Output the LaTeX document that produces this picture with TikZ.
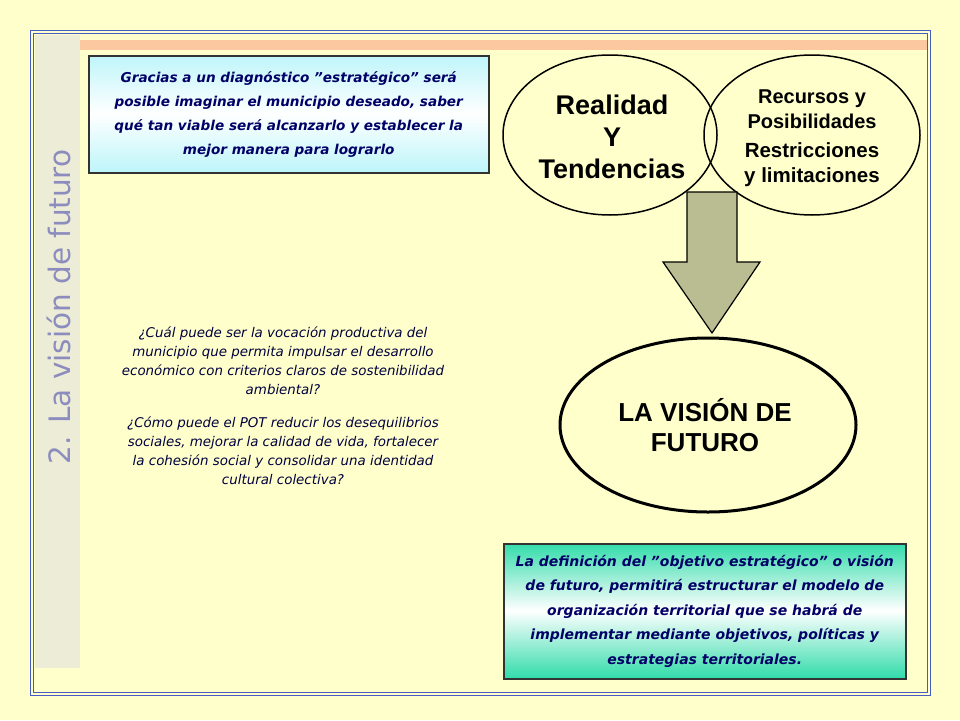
\documentclass[tikz,border=0pt]{standalone}
\usepackage{fontspec}
\setmainfont{DejaVu Sans}
\newfontfamily\arialf{Liberation Sans}
\usetikzlibrary{arrows.meta}
\definecolor{bg}{RGB}{255,255,204}
\definecolor{navy}{RGB}{0,0,102}
\definecolor{frameblue}{RGB}{70,90,200}
\definecolor{stripgray}{RGB}{236,236,215}
\definecolor{orng}{RGB}{252,200,160}
\definecolor{cyanish}{RGB}{190,245,250}
\definecolor{teal}{RGB}{50,220,170}
\definecolor{olive}{RGB}{186,188,145}
\definecolor{titlec}{RGB}{140,140,190}
\tikzset{
  txtbox/.style={draw=black!80,line width=1.5pt,align=center,text=navy,font=\fontsize{13.6}{24}\selectfont\bfseries\itshape},
}
\begin{document}
\begin{tikzpicture}[x=1pt,y=-1pt]
\useasboundingbox (0,0) rectangle (960,720);
\fill[bg] (0,0) rectangle (960,720);
\fill[stripgray] (35,35) rectangle (80,668);
\fill[orng] (80,40) rectangle (927,50);
\draw[frameblue,line width=1pt] (30,30) rectangle (930,695);
\draw[frameblue,line width=1pt] (33,33) rectangle (927,692);
\node[rotate=90,text=titlec,font=\fontsize{29.5}{32}\selectfont] (title) at (59,307) {2. La visión de futuro};
% top-left box
\shade[top color=cyanish,bottom color=cyanish,middle color=white] (88,55) rectangle (488,172);
\node[txtbox,minimum width=400pt,minimum height=117pt,anchor=north west,inner sep=0pt] (b1) at (88,55)
 {Gracias a un diagnóstico "estratégico" será\\posible imaginar el municipio deseado, saber\\qué tan viable será alcanzarlo y establecer la\\mejor manera para lograrlo};
% questions
\node[align=center,text=navy!60!black,font=\fontsize{13.4}{19}\selectfont\itshape] (q) at (283,406)
 {¿Cuál puede ser la vocación productiva del\\municipio que permita impulsar el desarrollo\\económico con criterios claros de sostenibilidad\\ambiental?\\[14pt]¿Cómo puede el POT reducir los desequilibrios\\sociales, mejorar la calidad de vida, fortalecer\\la cohesión social y consolidar una identidad\\cultural colectiva?};
% ellipses
\draw[line width=1.5pt,fill=bg] (610,135) ellipse [x radius=107,y radius=80];
\draw[line width=1.5pt] (812,135) ellipse [x radius=108,y radius=80];
\node[align=center,font=\arialf\fontsize{27}{32}\selectfont\bfseries] (r) at (612,137) {Realidad\\Y\\Tendencias};
\node[align=center,font=\arialf\fontsize{20}{25}\selectfont\bfseries] (rec) at (812,109) {Recursos y\\Posibilidades};
\node[align=center,font=\arialf\fontsize{20.5}{25}\selectfont\bfseries] (res) at (812,165) {Restricciones\\y limitaciones};
% arrow
\draw[line width=1.2pt,fill=olive,line join=miter] (687,192) -- (737,192) -- (737,262) -- (760,262) -- (712,333) -- (663,262) -- (687,262) -- cycle;
% big ellipse
\draw[line width=3pt,fill=bg] (708,425) ellipse [x radius=148,y radius=87];
\node[align=center,font=\arialf\fontsize{26}{30}\selectfont\bfseries] (v) at (705,425) {LA VISIÓN DE\\FUTURO};
% bottom box
\shade[top color=teal,bottom color=teal,middle color=white] (503,543) rectangle (905,678);
\node[txtbox,minimum width=402pt,minimum height=135pt,anchor=north west,inner sep=0pt,font=\fontsize{14}{24.5}\selectfont\bfseries\itshape] (b2) at (503,543)
 {La definición del "objetivo estratégico" o visión\\de futuro, permitirá estructurar el modelo de\\organización territorial que se habrá de\\implementar mediante objetivos, políticas y\\estrategias territoriales.};
\end{tikzpicture}
\end{document}
